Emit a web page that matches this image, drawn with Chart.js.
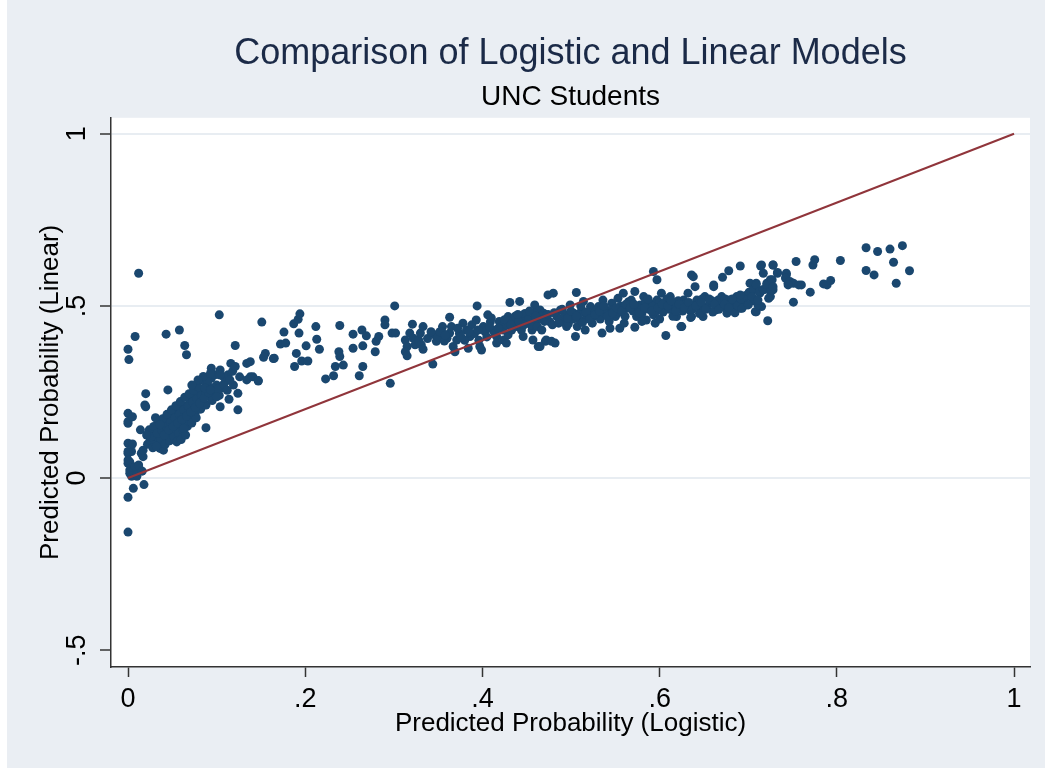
<!DOCTYPE html>
<html>
<head>
<meta charset="utf-8">
<title>Comparison of Logistic and Linear Models</title>
<script src="https://cdn.jsdelivr.net/npm/chart.js@4.4.1/dist/chart.umd.min.js"></script>
<style>
  body { margin: 0; background: #fff; }
  canvas { display: block; }
</style>
</head>
<body>
<canvas id="myChart" width="1045" height="768"></canvas>
<script>
// predicted probability from the logistic model (x) vs the linear model (y)
const studentPoints = [
  [0.000,-0.157],[0.000,-0.056],[0.006,-0.030],[0.018,-0.019],[0.002,0.014],[0.008,0.014],[0.014,0.023],
  [0.002,0.023],[0.000,0.043],[0.002,0.047],[0.008,0.033],[0.012,0.038],[0.000,0.072],[0.004,0.077],
  [0.015,0.072],[0.017,0.062],[0.017,0.081],[0.000,0.101],[0.005,0.099],[0.000,0.052],[0.000,0.077],
  [0.000,0.159],[0.000,0.164],[0.000,0.188],[0.005,0.178],[0.014,0.140],[0.020,0.207],[0.020,0.245],
  [0.019,0.212],[0.000,0.374],[0.001,0.344],[0.008,0.411],[0.012,0.595],[0.043,0.418],[0.058,0.430],
  [0.064,0.385],[0.066,0.358],[0.103,0.474],[0.045,0.256],[0.029,0.106],[0.040,0.101],[0.036,0.086],
  [0.040,0.081],[0.010,0.005],[0.004,0.005],[0.010,0.010],[0.016,0.020],
  // dense cluster near zero
  [0.022,0.098],[0.025,0.110],[0.027,0.125],[0.030,0.105],[0.030,0.135],[0.033,0.118],[0.035,0.145],
  [0.036,0.100],[0.038,0.128],[0.040,0.155],[0.041,0.112],[0.043,0.138],[0.045,0.165],[0.046,0.125],
  [0.048,0.150],[0.050,0.178],[0.051,0.135],[0.053,0.160],[0.055,0.190],[0.056,0.145],[0.058,0.172],
  [0.060,0.200],[0.061,0.155],[0.063,0.182],[0.065,0.210],[0.066,0.165],[0.068,0.195],[0.070,0.222],
  [0.071,0.178],[0.073,0.205],[0.075,0.232],[0.076,0.190],[0.078,0.215],[0.080,0.242],[0.082,0.200],
  [0.084,0.228],[0.086,0.252],[0.088,0.212],[0.090,0.238],[0.092,0.262],[0.095,0.225],[0.097,0.250],
  [0.100,0.270],[0.103,0.240],[0.106,0.262],[0.110,0.280],[0.028,0.088],[0.032,0.092],[0.037,0.115],
  [0.042,0.098],[0.047,0.108],[0.052,0.120],[0.057,0.130],[0.062,0.140],[0.067,0.150],[0.072,0.160],
  [0.077,0.175],[0.034,0.160],[0.039,0.172],[0.044,0.185],[0.049,0.198],[0.054,0.210],[0.059,0.222],
  [0.064,0.235],[0.069,0.245],[0.074,0.255],[0.079,0.265],[0.024,0.140],[0.029,0.150],[0.031,0.175],
  [0.026,0.120],[0.021,0.125],[0.055,0.105],[0.060,0.112],[0.065,0.125],[0.083,0.285],[0.088,0.275],
  [0.094,0.290],[0.098,0.300],
  [0.033,0.130],[0.038,0.140],[0.043,0.150],[0.048,0.162],[0.053,0.175],[0.058,0.185],[0.063,0.198],
  [0.068,0.208],[0.073,0.220],[0.078,0.230],[0.083,0.240],[0.088,0.250],[0.036,0.155],[0.041,0.125],
  [0.046,0.140],[0.051,0.150],[0.056,0.160],[0.061,0.170],[0.066,0.180],[0.071,0.192],[0.076,0.205],
  [0.081,0.218],[0.086,0.232],[0.091,0.248],[0.096,0.262],[0.101,0.258],[0.108,0.272],[0.113,0.300],
  [0.118,0.310],[0.112,0.255],[0.090,0.280],[0.085,0.295],
  [0.088,0.146],[0.124,0.198],[0.124,0.246],[0.114,0.229],[0.063,0.144],[0.094,0.319],[0.104,0.314],
  [0.108,0.294],[0.116,0.333],[0.121,0.324],[0.134,0.333],[0.138,0.294],[0.147,0.282],[0.079,0.285],
  [0.072,0.270],[0.087,0.261],[0.093,0.256],[0.100,0.236],[0.104,0.207],[0.119,0.270],[0.093,0.304],
  [0.104,0.299],[0.115,0.285],[0.126,0.294],[0.134,0.285],[0.121,0.385],[0.151,0.453],[0.172,0.389],
  [0.155,0.362],[0.153,0.351],[0.164,0.347],
  // spread between .15 and .47
  [0.138,0.338],[0.141,0.294],[0.147,0.283],[0.165,0.348],[0.178,0.392],[0.176,0.424],[0.187,0.448],
  [0.192,0.461],[0.194,0.477],[0.193,0.421],[0.190,0.362],[0.188,0.324],[0.196,0.340],[0.203,0.340],
  [0.201,0.384],[0.212,0.440],[0.213,0.403],[0.216,0.374],[0.223,0.288],[0.232,0.297],[0.234,0.324],
  [0.238,0.367],[0.239,0.353],[0.239,0.443],[0.243,0.328],[0.254,0.418],[0.254,0.377],[0.264,0.430],
  [0.269,0.413],[0.265,0.384],[0.265,0.324],[0.261,0.297],[0.280,0.397],[0.283,0.411],[0.279,0.367],
  [0.290,0.459],[0.290,0.445],[0.296,0.275],[0.298,0.421],[0.302,0.421],[0.301,0.500],[0.313,0.401],
  [0.315,0.382],[0.313,0.367],[0.315,0.355],[0.321,0.447],[0.318,0.421],[0.322,0.406],[0.324,0.387],
  [0.328,0.401],[0.330,0.421],[0.333,0.440],[0.331,0.387],[0.333,0.374],[0.344,0.331],[0.346,0.416],
  [0.348,0.397],[0.355,0.440],[0.354,0.426],[0.363,0.467],[0.360,0.406],[0.363,0.421],[0.367,0.382],
  [0.371,0.401],[0.369,0.367],[0.378,0.450],[0.382,0.430],[0.386,0.411],[0.384,0.377],[0.397,0.382],
  [0.399,0.372],[0.394,0.500],[0.393,0.459],[0.401,0.440],[0.406,0.474],[0.409,0.454],[0.412,0.430],
  [0.416,0.411],[0.420,0.440],[0.416,0.392],[0.424,0.401],[0.429,0.416],[0.427,0.392],[0.431,0.510],
  [0.442,0.513],[0.429,0.469],[0.435,0.459],[0.439,0.440],[0.446,0.469],[0.450,0.450],[0.456,0.430],
  [0.461,0.459],[0.459,0.503],[0.465,0.488],[0.469,0.479],[0.446,0.411],[0.457,0.401],[0.463,0.382],
  [0.471,0.397],[0.474,0.532],
  [0.338,0.405],[0.342,0.425],[0.350,0.410],[0.357,0.398],[0.365,0.440],[0.374,0.420],[0.380,0.400],
  [0.388,0.445],[0.391,0.420],[0.396,0.400],[0.403,0.425],[0.408,0.440],[0.414,0.420],[0.419,0.455],
  [0.423,0.430],[0.427,0.445],[0.433,0.430],[0.437,0.470],[0.441,0.455],[0.444,0.430],[0.448,0.478],
  [0.452,0.462],[0.455,0.445],[0.458,0.480],[0.462,0.440],[0.466,0.470],
  [0.352,0.425],[0.358,0.415],[0.372,0.435],[0.376,0.410],[0.385,0.425],[0.395,0.430],[0.405,0.410],
  [0.410,0.465],[0.418,0.435],[0.425,0.460],[0.432,0.445],[0.440,0.475],[0.447,0.445],[0.453,0.485],
  [0.460,0.470],
  // band from .47 to .75
  [0.467,0.430],[0.465,0.382],[0.472,0.401],[0.478,0.397],[0.482,0.392],[0.480,0.537],[0.476,0.454],
  [0.484,0.469],[0.488,0.488],[0.491,0.454],[0.495,0.440],[0.499,0.503],[0.503,0.479],[0.505,0.411],
  [0.507,0.440],[0.510,0.459],[0.512,0.488],[0.514,0.513],[0.516,0.430],[0.518,0.469],[0.522,0.498],
  [0.506,0.539],[0.535,0.421],[0.544,0.435],[0.555,0.435],[0.525,0.469],[0.531,0.498],[0.536,0.517],
  [0.540,0.488],[0.546,0.508],[0.550,0.469],[0.553,0.522],[0.559,0.537],[0.563,0.493],[0.568,0.517],
  [0.572,0.542],[0.574,0.469],[0.578,0.503],[0.582,0.527],[0.572,0.438],[0.593,0.600],[0.597,0.576],
  [0.585,0.459],[0.593,0.474],[0.595,0.450],[0.589,0.508],[0.597,0.517],[0.602,0.537],[0.606,0.498],
  [0.612,0.527],[0.615,0.508],[0.619,0.469],[0.623,0.493],[0.625,0.440],[0.627,0.517],[0.632,0.537],
  [0.634,0.488],[0.636,0.469],[0.640,0.556],[0.642,0.517],[0.646,0.493],[0.649,0.469],[0.651,0.527],
  [0.657,0.508],[0.661,0.556],[0.663,0.488],[0.666,0.517],[0.670,0.527],[0.672,0.498],[0.676,0.479],
  [0.679,0.517],[0.683,0.493],[0.687,0.527],[0.691,0.493],[0.694,0.508],[0.607,0.414],[0.636,0.590],
  [0.638,0.585],[0.671,0.583],[0.678,0.602],[0.691,0.616],[0.661,0.561],[0.624,0.440],[0.635,0.466],
  [0.698,0.503],[0.704,0.527],[0.706,0.556],[0.709,0.566],[0.713,0.537],[0.715,0.498],[0.717,0.547],
  [0.721,0.566],[0.725,0.576],[0.728,0.547],[0.725,0.527],[0.733,0.597],[0.743,0.590],[0.745,0.566],
  [0.714,0.616],[0.728,0.619],[0.722,0.457],[0.709,0.483],
  [0.470,0.455],[0.479,0.445],[0.487,0.462],[0.493,0.475],[0.497,0.448],[0.502,0.462],[0.509,0.476],
  [0.513,0.452],[0.520,0.480],[0.524,0.450],[0.528,0.485],[0.533,0.462],[0.538,0.478],[0.543,0.455],
  [0.548,0.490],[0.552,0.478],[0.556,0.500],[0.561,0.470],[0.565,0.512],[0.570,0.485],[0.576,0.495],
  [0.580,0.478],[0.584,0.512],[0.588,0.490],[0.592,0.500],[0.596,0.485],[0.600,0.510],[0.604,0.482],
  [0.608,0.520],[0.611,0.490],[0.617,0.500],[0.621,0.515],[0.626,0.485],[0.630,0.505],[0.638,0.500],
  [0.644,0.505],[0.648,0.520],[0.654,0.498],[0.659,0.515],[0.665,0.500],[0.669,0.510],[0.674,0.520],
  [0.680,0.505],[0.685,0.515],[0.689,0.510],[0.696,0.520],[0.560,0.450],[0.580,0.455],[0.600,0.462],
  [0.615,0.470],[0.645,0.478],[0.660,0.482],[0.685,0.480],
  [0.468,0.460],[0.474,0.475],[0.481,0.480],[0.486,0.450],[0.490,0.490],[0.496,0.465],[0.500,0.485],
  [0.506,0.470],[0.511,0.500],[0.517,0.482],[0.521,0.462],[0.527,0.475],[0.532,0.485],[0.537,0.500],
  [0.541,0.470],[0.547,0.480],[0.551,0.495],[0.557,0.485],[0.562,0.505],[0.567,0.495],[0.571,0.505],
  [0.577,0.480],[0.583,0.495],[0.587,0.520],[0.591,0.485],[0.598,0.495],[0.603,0.505],[0.609,0.500],
  [0.613,0.515],[0.618,0.485],[0.622,0.505],[0.628,0.495],[0.633,0.510],[0.637,0.490],[0.641,0.500],
  [0.647,0.510],[0.652,0.490],[0.656,0.520],[0.662,0.505],[0.667,0.490],[0.673,0.505],[0.678,0.495],
  [0.682,0.520],[0.688,0.500],[0.692,0.520],[0.697,0.530],[0.701,0.540],[0.705,0.515],
  // upper tail
  [0.691,0.532],[0.693,0.493],[0.700,0.503],[0.708,0.483],[0.711,0.503],[0.702,0.566],[0.706,0.547],
  [0.704,0.527],[0.709,0.561],[0.713,0.542],[0.717,0.547],[0.721,0.561],[0.725,0.542],[0.727,0.576],
  [0.728,0.556],[0.723,0.522],[0.711,0.517],[0.715,0.619],[0.717,0.595],[0.728,0.619],[0.733,0.595],
  [0.743,0.595],[0.742,0.581],[0.747,0.571],[0.751,0.566],[0.757,0.561],[0.760,0.561],[0.745,0.561],
  [0.754,0.629],[0.751,0.511],[0.770,0.540],[0.773,0.619],[0.775,0.634],[0.785,0.564],[0.789,0.561],
  [0.793,0.574],[0.804,0.632],[0.833,0.669],[0.846,0.658],[0.860,0.665],[0.874,0.675],[0.833,0.603],
  [0.842,0.590],[0.864,0.627],[0.867,0.566],[0.882,0.602]
];

// 45 degree reference line
const lineX = [0, 1];
const lineY = [0, 1];

const xTicks = [0, 0.2, 0.4, 0.6, 0.8, 1];
const yTicks = [-0.5, 0, 0.5, 1];

const fontFamily = "'Liberation Sans', Arial, sans-serif";

// stata style tick text: 0.2 -> .2, -0.5 -> -.5
const stataLabel = (v) => String(v).replace('0.', '.');

const backdrop = {
    id: 'backdrop',
    beforeDraw(chart) {
        const {ctx, chartArea, width, height} = chart;
        ctx.save();
        ctx.fillStyle = '#eaeef3';
        ctx.fillRect(0, 0, width, height);
        ctx.fillStyle = '#ffffff';
        ctx.fillRect(0, 0, 7, height);
        ctx.fillRect(chartArea.left, chartArea.top, chartArea.right - chartArea.left, chartArea.bottom - chartArea.top);
        ctx.restore();
    }
};

new Chart("myChart", {
    type: "scatter",
    data: {
        datasets: [
            {
                type: "line",
                data: lineX.map((x, i) => ({x: x, y: lineY[i]})),
                borderColor: "#90353b",
                borderWidth: 2,
                pointRadius: 0,
                fill: false,
                order: 0
            },
            {
                data: studentPoints.map(p => ({x: p[0], y: p[1]})),
                backgroundColor: "#1a476f",
                borderWidth: 0,
                pointRadius: 4.5,
                order: 1
            }
        ]
    },
    options: {
        responsive: false,
        animation: false,
        events: [],
        layout: {padding: {left: 0, right: 15, top: 0, bottom: 0}},
        plugins: {
            legend: {display: false},
            tooltip: {enabled: false},
            title: {
                display: true,
                fullSize: false,
                text: "Comparison of Logistic and Linear Models",
                color: "#1b2a47",
                font: {family: fontFamily, size: 36, weight: "normal"},
                padding: {top: 32, bottom: 0}
            },
            subtitle: {
                display: true,
                fullSize: false,
                text: "UNC Students",
                color: "#000",
                font: {family: fontFamily, size: 28, weight: "normal"},
                padding: {top: 5, bottom: 4}
            }
        },
        scales: {
            x: {
                type: "linear",
                min: -0.0192,
                max: 1.018,
                afterBuildTicks: (s) => { s.ticks = xTicks.map(v => ({value: v})); },
                afterFit: (s) => { s.height = 101; s.paddingLeft = 0; s.paddingRight = 0; },
                border: {color: "#333", width: 1.5},
                grid: {drawOnChartArea: false, drawTicks: true, tickLength: 10, tickColor: "#333", tickWidth: 1.5},
                ticks: {
                    color: "#000",
                    font: {family: fontFamily, size: 27},
                    padding: 6,
                    maxRotation: 0,
                    callback: stataLabel
                },
                title: {
                    display: true,
                    text: "Predicted Probability (Logistic)",
                    color: "#000",
                    font: {family: fontFamily, size: 26},
                    padding: {top: 0, bottom: 29}
                }
            },
            y: {
                type: "linear",
                min: -0.549,
                max: 1.0465,
                afterBuildTicks: (s) => { s.ticks = yTicks.map(v => ({value: v})); },
                afterFit: (s) => { s.width = 111; s.paddingTop = 0; s.paddingBottom = 0; },
                border: {color: "#333", width: 1.5},
                grid: {
                    color: (c) => (c.tick && c.tick.value === -0.5) ? "rgba(0,0,0,0)" : "#e8edf2",
                    lineWidth: 2,
                    tickLength: 11,
                    tickColor: "#333",
                    tickWidth: 1.5
                },
                ticks: {
                    color: "#000",
                    font: {family: fontFamily, size: 27},
                    minRotation: 90,
                    maxRotation: 90,
                    crossAlign: "center",
                    padding: 7,
                    callback: stataLabel
                },
                title: {
                    display: true,
                    text: "Predicted Probability (Linear)",
                    color: "#000",
                    font: {family: fontFamily, size: 26},
                    padding: {top: 35, bottom: 0}
                }
            }
        }
    },
    plugins: [backdrop]
});
</script>
</body>
</html>
